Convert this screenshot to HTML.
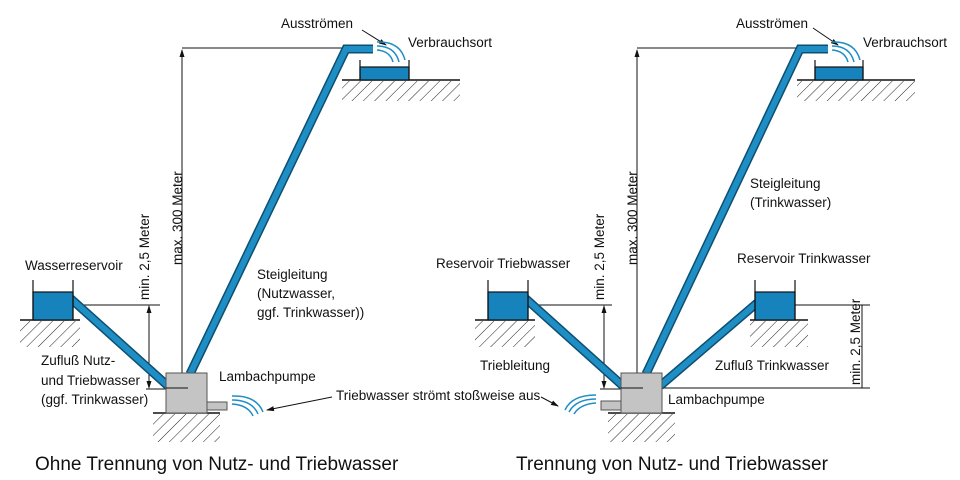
<!DOCTYPE html>
<html><head><meta charset="utf-8"><style>
html,body{margin:0;padding:0;background:#fff;width:960px;height:480px;overflow:hidden}
svg{display:block}
text{font-family:"Liberation Sans",sans-serif;font-size:13.5px;fill:#111}
.t{font-size:19px}
</style></head><body>
<svg width="960" height="480" viewBox="0 0 960 480">
<defs>
<pattern id="h" width="8" height="8" patternUnits="userSpaceOnUse" patternTransform="rotate(45)">
<line x1="0" y1="0" x2="0" y2="8" stroke="#222" stroke-width="1"/>
</pattern>
<marker id="a" markerWidth="8" markerHeight="8" refX="7" refY="4" orient="auto" markerUnits="userSpaceOnUse"><path d="M0,1.5 L8,4 L0,6.5z" fill="#111"/></marker>
</defs>
<g stroke="#111" stroke-width="1" fill="none">
<line x1="182" y1="48" x2="345" y2="48"/>
<line x1="182" y1="388" x2="182" y2="50" marker-end="url(#a)"/>
<line x1="149" y1="320" x2="149" y2="306" marker-end="url(#a)"/>
<line x1="149" y1="375" x2="149" y2="388" marker-end="url(#a)"/>
<line x1="149" y1="306" x2="149" y2="388"/>
<line x1="73" y1="305" x2="160" y2="305"/>
<line x1="146" y1="389" x2="188" y2="389"/>
<line x1="182" y1="400" x2="182" y2="373" marker-end="url(#a)"/>
<line x1="637" y1="48" x2="800" y2="48"/>
<line x1="637" y1="388" x2="637" y2="50" marker-end="url(#a)"/>
<line x1="604" y1="320" x2="604" y2="306" marker-end="url(#a)"/>
<line x1="604" y1="375" x2="604" y2="388" marker-end="url(#a)"/>
<line x1="604" y1="306" x2="604" y2="388"/>
<line x1="528" y1="305" x2="612" y2="305"/>
<line x1="600" y1="389" x2="643" y2="389"/>
<line x1="795" y1="305" x2="870" y2="305"/>
<line x1="662" y1="388" x2="870" y2="388"/>
<line x1="862" y1="305" x2="862" y2="388"/>
<line x1="362" y1="30" x2="386" y2="45" marker-end="url(#a)"/>
<line x1="813" y1="28" x2="838" y2="45" marker-end="url(#a)"/>
<line x1="332" y1="397" x2="267" y2="410" marker-end="url(#a)"/>
<line x1="541" y1="397" x2="558" y2="406" marker-end="url(#a)"/>
</g>
<g>
<rect x="20" y="321" width="60" height="26" fill="url(#h)"/>
<rect x="153" y="414" width="67" height="28" fill="url(#h)"/>
<rect x="342" y="81" width="118" height="20" fill="url(#h)"/>
<rect x="475" y="321" width="60" height="26" fill="url(#h)"/>
<rect x="608" y="414" width="67" height="28" fill="url(#h)"/>
<rect x="797" y="81" width="118" height="20" fill="url(#h)"/>
<rect x="750" y="321" width="58" height="26" fill="url(#h)"/>
</g>
<g stroke="#111" stroke-width="1.6">
<line x1="20" y1="320" x2="80" y2="320"/>
<line x1="153" y1="413" x2="220" y2="413"/>
<line x1="342" y1="80" x2="460" y2="80"/>
<line x1="475" y1="320" x2="535" y2="320"/>
<line x1="608" y1="413" x2="675" y2="413"/>
<line x1="797" y1="80" x2="915" y2="80"/>
<line x1="750" y1="320" x2="808" y2="320"/>
</g>
<g fill="none" stroke-linejoin="miter">
<g stroke="#0d4f70" stroke-width="9">
<polyline points="190,374 346,49 373,49"/>
<line x1="70" y1="298" x2="168" y2="386"/>
<polyline points="646,374 800,49 828,49"/>
<line x1="525" y1="298" x2="623" y2="386"/>
<line x1="757" y1="303" x2="660" y2="386"/>
</g>
<g stroke="#1e8ec4" stroke-width="6">
<polyline points="190,374 346,49 373,49"/>
<line x1="70" y1="298" x2="168" y2="386"/>
<polyline points="646,374 800,49 828,49"/>
<line x1="525" y1="298" x2="623" y2="386"/>
<line x1="757" y1="303" x2="660" y2="386"/>
</g>
</g>
<g stroke="#111" stroke-width="1.2">
<rect x="33" y="292" width="40" height="28" fill="#1683bd"/>
<line x1="33" y1="280" x2="33" y2="320"/><line x1="73" y1="280" x2="73" y2="320"/>
<rect x="488" y="292" width="40" height="28" fill="#1683bd"/>
<line x1="488" y1="280" x2="488" y2="320"/><line x1="528" y1="280" x2="528" y2="320"/>
<rect x="755" y="292" width="40" height="28" fill="#1683bd"/>
<line x1="755" y1="280" x2="755" y2="320"/><line x1="795" y1="280" x2="795" y2="320"/>
<rect x="360" y="67" width="49" height="13" fill="#1683bd"/>
<line x1="360" y1="60" x2="360" y2="80"/><line x1="409" y1="60" x2="409" y2="80"/>
<rect x="815" y="67" width="48" height="13" fill="#1683bd"/>
<line x1="815" y1="60" x2="815" y2="80"/><line x1="863" y1="60" x2="863" y2="80"/>
</g>
<g fill="#c4c4c4" stroke="#555" stroke-width="1">
<rect x="166" y="373" width="41" height="40"/>
<line x1="166" y1="388" x2="188" y2="388" stroke="#111"/>
<rect x="207" y="402" width="20" height="8"/>
<rect x="621" y="373" width="41" height="40"/>
<line x1="621" y1="388" x2="643" y2="388" stroke="#111"/>
<rect x="601" y="401" width="20" height="9"/>
</g>
<g fill="none" stroke="#1e8ec4" stroke-width="1.5">
<path d="M232,404 Q248,405 253,416"/><path d="M232,400 Q252,400 258,414"/><path d="M232,396 Q256,395 263,412"/>
<path d="M596,403 Q580,404 574,414"/><path d="M596,399 Q576,399 569,412"/><path d="M596,395 Q572,395 565,410"/>
<path d="M377,50 Q390,51 393,62"/><path d="M377,46 Q395,46 399,62"/><path d="M377,42 Q400,41 405,60"/>
<path d="M832,50 Q845,51 848,62"/><path d="M832,46 Q850,46 854,62"/><path d="M832,42 Q855,41 860,60"/>
</g>
<text x="25" y="270">Wasserreservoir</text>
<text x="41" y="365">Zufluß Nutz-</text>
<text x="41" y="385">und Triebwasser</text>
<text x="41" y="404">(ggf. Trinkwasser)</text>
<text x="257" y="279">Steigleitung</text>
<text x="257" y="298">(Nutzwasser,</text>
<text x="257" y="317">ggf. Trinkwasser))</text>
<text x="219" y="381">Lambachpumpe</text>
<text x="281" y="28">Ausströmen</text>
<text x="408" y="47">Verbrauchsort</text>
<text x="336" y="400">Triebwasser strömt stoßweise aus</text>
<text transform="translate(182,265) rotate(-90)">max. 300 Meter</text>
<text transform="translate(149,300) rotate(-90)">min. 2,5 Meter</text>
<text class="t" x="35" y="470">Ohne Trennung von Nutz- und Triebwasser</text>
<text x="436" y="268">Reservoir Triebwasser</text>
<text x="737" y="263">Reservoir Trinkwasser</text>
<text x="750" y="188">Steigleitung</text>
<text x="750" y="207">(Trinkwasser)</text>
<text x="480" y="370">Triebleitung</text>
<text x="715" y="370">Zufluß Trinkwasser</text>
<text x="668" y="404">Lambachpumpe</text>
<text x="736" y="28">Ausströmen</text>
<text x="863" y="47">Verbrauchsort</text>
<text transform="translate(637,265) rotate(-90)">max. 300 Meter</text>
<text transform="translate(604,300) rotate(-90)">min. 2,5 Meter</text>
<text transform="translate(860,385) rotate(-90)">min. 2,5 Meter</text>
<text class="t" x="516" y="470">Trennung von Nutz- und Triebwasser</text>
</svg>
</body></html>
